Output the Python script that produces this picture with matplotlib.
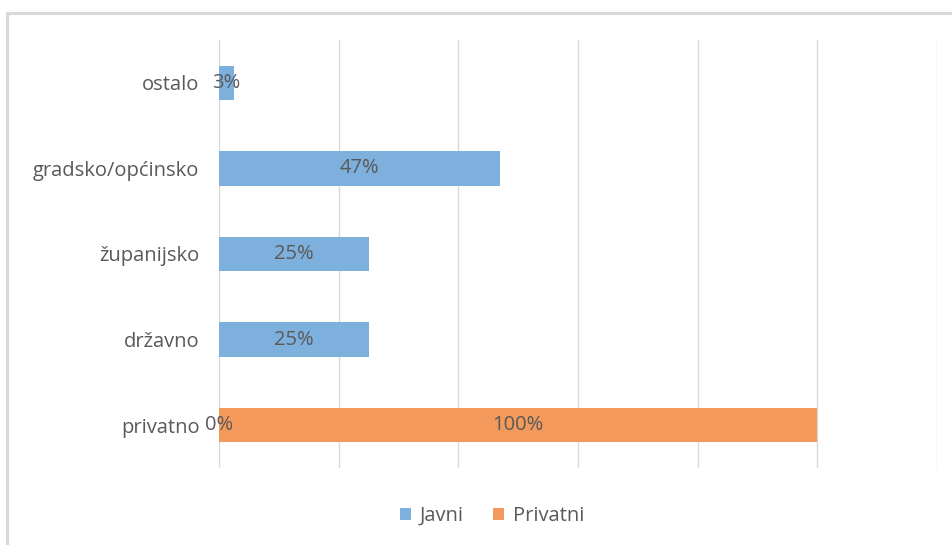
import matplotlib.pyplot as plt
from matplotlib.patches import Rectangle

# podaci
kategorije = ['privatno', 'državno', 'županijsko', 'gradsko/općinsko', 'ostalo']
javni = [0.00, 0.25, 0.25, 0.47, 0.025]
privatni = [1.00, 0, 0, 0, 0]
javni_oznake = ['0%', '25%', '25%', '47%', '3%']
privatni_oznake = ['100%', '', '', '', '']

plava = '#7eb0de'
narancasta = '#f2995b'
siva = '#595959'

plt.rcParams['font.family'] = ['Open Sans', 'DejaVu Sans']

W, H = 953, 545
fig = plt.figure(figsize=(W / 100, H / 100), dpi=100)

# okvir grafikona (odrezan desno i dolje)
fig.patches.append(Rectangle((7 / W, -0.1), 1.2, 1 - 13 / H + 0.1, transform=fig.transFigure,
                             fill=False, edgecolor='#d9d9d9', linewidth=2.2))

ax = fig.add_axes([219 / W, 1 - 468 / H, (937 - 219) / W, (468 - 40) / H])
y = range(len(kategorije))
b1 = ax.barh(y, javni, height=0.4, color=plava, label='Javni')
b2 = ax.barh(y, privatni, left=javni, height=0.4, color=narancasta, label='Privatni')

for rect, txt in zip(b1, javni_oznake):
    ax.text(rect.get_x() + rect.get_width() / 2, rect.get_y() + rect.get_height() / 2, txt,
            ha='center', va='center', color=siva, fontsize=14.5)
for rect, txt in zip(b2, privatni_oznake):
    if txt:
        ax.text(rect.get_x() + rect.get_width() / 2, rect.get_y() + rect.get_height() / 2, txt,
                ha='center', va='center', color=siva, fontsize=14.5)

ax.set_xlim(0, 1.2)
ax.set_ylim(-0.5, len(kategorije) - 0.5)
ax.set_xticks([0, 0.2, 0.4, 0.6, 0.8, 1.0, 1.2])
ax.set_xticklabels([])
ax.set_yticks(list(y))
ax.set_yticklabels(kategorije, color=siva, fontsize=14.5)
ax.tick_params(axis='both', length=0, pad=14)
ax.grid(axis='x', color='#d9d9d9', linewidth=1)
ax.set_axisbelow(True)
for s in ax.spines.values():
    s.set_visible(False)

fig.legend(handles=[b1, b2], labels=['Javni', 'Privatni'], loc='center', bbox_to_anchor=(492 / W, 1 - 516 / H),
           ncol=2, frameon=False, fontsize=14.5, labelcolor=siva, handlelength=0.55, handleheight=0.55,
           handletextpad=0.4, columnspacing=1.5)

fig.savefig('out.png', dpi=100)
